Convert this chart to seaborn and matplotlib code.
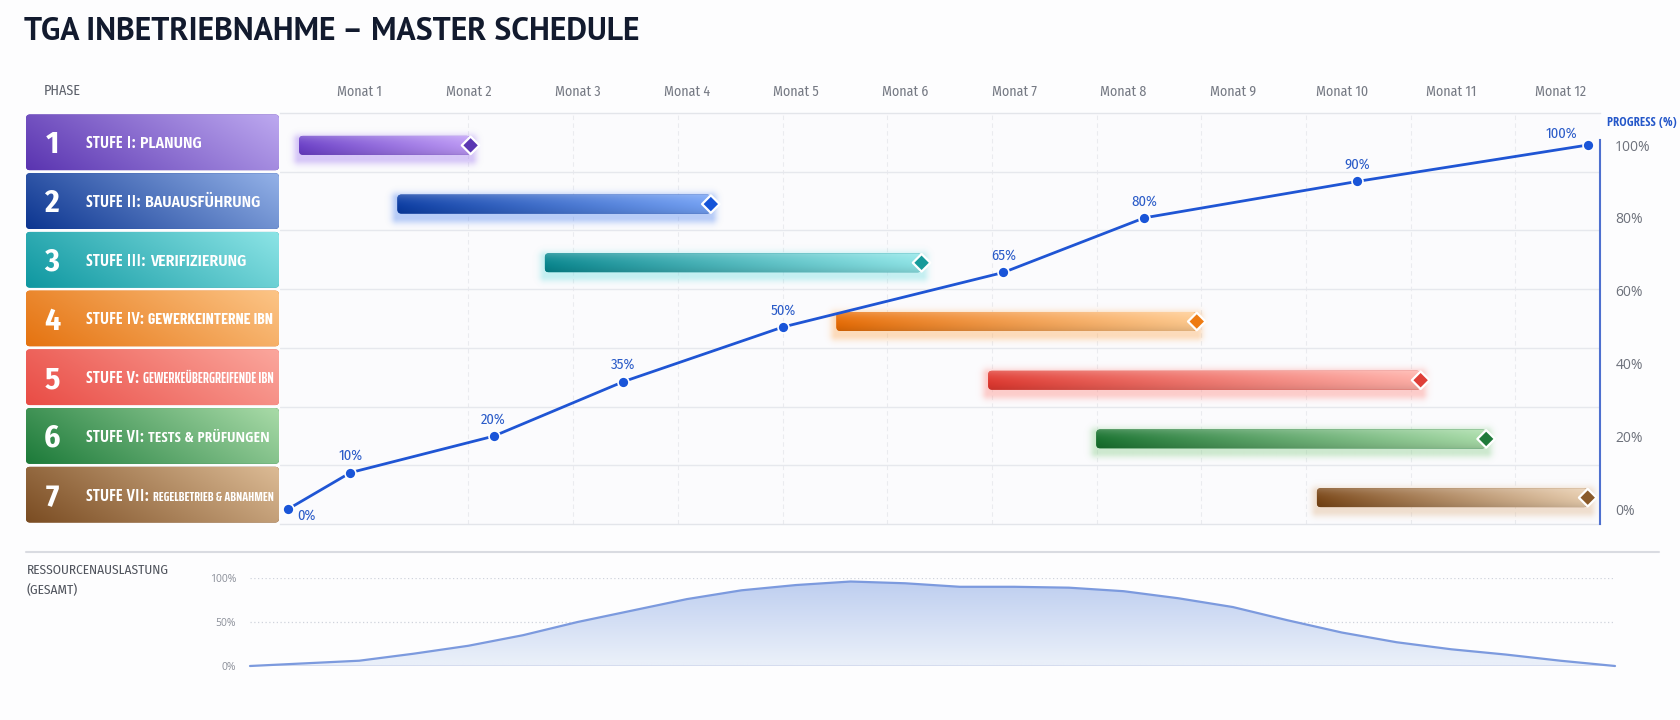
import numpy as np
import pandas as pd
import matplotlib
matplotlib.use("Agg")
import matplotlib.pyplot as plt
import seaborn as sns
from matplotlib import font_manager as fm
from matplotlib.font_manager import FontProperties
from matplotlib.ft2font import FT2Font
from matplotlib.patches import FancyBboxPatch
from matplotlib.lines import Line2D
from matplotlib.colors import to_rgb

# ---------------------------------------------------------------- data
title_text = "TGA INBETRIEBNAHME – MASTER SCHEDULE"
phase_header = "PHASE"
month_ticks = [1, 2, 3, 4, 5, 6, 7, 8, 9, 10, 11, 12]
month_labels = ["Monat 1", "Monat 2", "Monat 3", "Monat 4", "Monat 5", "Monat 6",
                "Monat 7", "Monat 8", "Monat 9", "Monat 10", "Monat 11", "Monat 12"]
phase_numbers = ["1", "2", "3", "4", "5", "6", "7"]
phase_prefix = ["STUFE I:", "STUFE II:", "STUFE III:", "STUFE IV:", "STUFE V:",
                "STUFE VI:", "STUFE VII:"]
phase_names = ["PLANUNG", "BAUAUSFÜHRUNG", "VERIFIZIERUNG", "GEWERKEINTERNE IBN",
               "GEWERKEÜBERGREIFENDE IBN", "TESTS & PRÜFUNGEN", "REGELBETRIEB & ABNAHMEN"]
bar_start = [0.45, 1.35, 2.70, 5.37, 6.76, 7.75, 9.77]
bar_end = [2.02, 4.22, 6.15, 8.67, 10.72, 11.32, 12.25]
progress_x = [0.35, 0.92, 2.23, 3.42, 4.88, 6.90, 8.19, 10.14, 12.25]
progress_pct = [0, 10, 20, 35, 50, 65, 80, 90, 100]
progress_ticks = [0, 20, 40, 60, 80, 100]
progress_tick_labels = ["0%", "20%", "40%", "60%", "80%", "100%"]
progress_axis_label = "PROGRESS (%)"
resource_label = ["RESSOURCENAUSLASTUNG", "(GESAMT)"]
resource_x = [0, 1, 1.5, 2, 2.5, 3, 3.5, 4, 4.5, 5, 5.5, 6, 6.5, 7, 7.5, 8, 8.5,
              9, 9.5, 10, 10.5, 11, 11.5, 12, 12.5]
resource_pct = [0, 6, 14, 23, 35, 50, 63, 76, 86, 92, 96, 94, 90, 90, 89, 85, 77,
                67, 52, 38, 27, 19, 13, 6, 0]
resource_ticks = [0, 50, 100]
resource_tick_labels = ["0%", "50%", "100%"]

# ---------------------------------------------------------------- styles
box_dark = ["#5a34b0", "#0c3590", "#0e97a0", "#e57310", "#e94c45", "#1c7a39", "#7a4c22"]
box_light = ["#bda9f0", "#94b2e8", "#8ce4e6", "#fcc587", "#fba79d", "#a9dba8", "#dcbb95"]
bar_dark = ["#6a3ec8", "#0a3ca4", "#07878f", "#e86c04", "#e0382f", "#17722e", "#7a4616"]
bar_light = ["#bc98f6", "#74a2f6", "#8fe6e8", "#ffca8e", "#ffaea6", "#a8dca8", "#e8cdae"]
glow_col = ["#a47ff0", "#5b8cf0", "#7adfe2", "#ffb060", "#ff8d85", "#8fd090", "#e0b890"]
diamond_col = ["#5a36b2", "#1554d8", "#169a9a", "#ee7b12", "#df3f38", "#1f7a3a", "#8a5a2a"]
BLUE = "#1f55d4"

W, H, DPI = 1680, 720, 100
sns.set_theme(style="white")
plt.rcParams["font.family"] = ["Open Sans", "DejaVu Sans"]

fig = plt.figure(figsize=(W / DPI, H / DPI), dpi=DPI, facecolor="#fdfdfe")


def fx(px):
    return px / W


def fy(py):
    return 1 - py / H


# ---------------------------------------------------------------- fonts
def _w(f):
    w = f.weight
    if isinstance(w, str):
        w = {"bold": 700, "normal": 400, "regular": 400, "medium": 500, "semibold": 600,
             "demibold": 600, "light": 300, "black": 900, "heavy": 800, "book": 400,
             "ultralight": 200, "extra bold": 800}.get(w.lower(), 400)
    return int(w)


def font_file(name, weight, tol=120):
    if not name:
        return None
    best = None
    for f in fm.fontManager.ttflist:
        if f.name != name or f.style != "normal":
            continue
        d = abs(_w(f) - weight)
        if best is None or d < best[0]:
            best = (d, f.fname)
    if best is None or best[0] > tol:
        return None
    return best[1]


def ink(path, s):
    f = FT2Font(path)
    f.set_size(100, 72)
    f.set_text(s, 0.0)
    w, h = f.get_width_height()
    return w / 64 / 100, h / 64 / 100


def pick(families, weight, sample, width_px, cap_px, tol=120):
    best = None
    for nm in families:
        p = font_file(nm, weight, tol)
        if not p:
            continue
        try:
            wr, _ = ink(p, sample)
            _, cr = ink(p, "H")
        except Exception:
            continue
        size_px = width_px / wr
        score = abs(cr * size_px - cap_px)
        if best is None or score < best[0]:
            best = (score, p, nm)
    return best


humanist_cond = ["Fira Sans Condensed", "Asap Condensed", "PT Sans Narrow", "Cabin Condensed",
                 "Encode Sans Condensed", "Encode Sans Semi Condensed", "IBM Plex Sans Condensed",
                 "Sofia Sans Condensed", "Sofia Sans Semi Condensed", "Open Sans Condensed",
                 "Roboto Condensed", "Archivo Narrow", "Barlow Semi Condensed",
                 "Barlow Condensed", "Liberation Sans Narrow"]
title_fams = ["Fira Sans", "Fira Sans Condensed", "Encode Sans Semi Condensed",
              "Barlow Semi Condensed", "Asap", "Asap Condensed", "Cabin", "PT Sans",
              "Noto Sans", "Lato", "Roboto", "IBM Plex Sans", "IBM Plex Sans Condensed",
              "Sofia Sans Semi Condensed", "Encode Sans Condensed", "DejaVu Sans"]

lab_pick = pick(humanist_cond, 700, "STUFE I: PLANUNG", 115, 11.8, tol=60)
LAB_B = lab_pick[1] if lab_pick else None
reg_pick = pick(humanist_cond, 400, "Monat 12", 51, 9.5, tol=60)
REG = reg_pick[1] if reg_pick else None
title_pick = pick(title_fams, 700, title_text, 615, 22.5, tol=60)
NUM_B = font_file("Fira Sans Condensed", 700, tol=60) or LAB_B
REST_MAIN = font_file("Fira Sans Condensed", 600, tol=60) or LAB_B

# narrow, fairly bold faces for long phase names
rest_cands = []
for f in fm.fontManager.ttflist:
    nm = f.name
    if f.style != "normal":
        continue
    if not any(k in nm for k in ("Condensed", "Narrow", "Compressed")):
        continue
    if any(k in nm for k in ("Mono", "Serif", " SC", "Sketch", "Condiment", "Light", "Thin",
                             "Black", "ExtraBold", "Extra Bold", "Display")):
        continue
    if not (550 <= _w(f) <= 720):
        continue
    if f.fname not in rest_cands:
        rest_cands.append(f.fname)
rest_cands = [p for p in (REST_MAIN, LAB_B) if p] + \
    [p for p in rest_cands if p not in (REST_MAIN, LAB_B)]


def fprop(path, size, bold=False):
    if path:
        return FontProperties(fname=path, size=size)
    return FontProperties(family=["DejaVu Sans"], weight="bold" if bold else "normal", size=size)


def fit_pt(path, s, target_px, fallback):
    if not path:
        return fallback
    wr, _ = ink(path, s)
    return target_px / wr * 72 / DPI


def cap_pt(path, cap_px, fallback):
    if not path:
        return fallback
    _, cr = ink(path, "H")
    return cap_px / cr * 72 / DPI


fig.canvas.draw()
renderer = fig.canvas.get_renderer()


def text_w(t):
    return t.get_window_extent(renderer=renderer).width


# ---------------------------------------------------------------- title & header
if title_pick:
    tsize = fit_pt(title_pick[1], title_text, 615, 22)
    fig.text(fx(24), fy(32), title_text, fontproperties=fprop(title_pick[1], tsize),
             color="#121a2e", ha="left", va="center")
else:
    fig.text(fx(24), fy(32), title_text, fontsize=20, fontweight="bold",
             color="#121a2e", ha="left", va="center")

fig.text(fx(44), fy(91), phase_header,
         fontproperties=fprop(REG, fit_pt(REG, phase_header, 37, 9)),
         color="#5c606a", ha="left", va="center")

# ---------------------------------------------------------------- gantt axes
GL, GR, GT, GB = 280, 1600, 113, 524
X0, X1 = 0.2747, 12.3626
PXX = (GR - GL) / (X1 - X0)
PXY = (GB - GT) / 7.0
ax = fig.add_axes([fx(GL), fy(GB), (GR - GL) / W, (GB - GT) / H])
ax.set_facecolor("#fbfbfd")
rows = np.arange(len(phase_names))


def grad_img(c0, c1, nx=256, ny=32, tilt=0.0, highlight=0.0, gamma=1.0, shade=0.0):
    a = np.array(to_rgb(c0))
    b = np.array(to_rgb(c1))
    X, Y = np.meshgrid(np.linspace(0, 1, nx), np.linspace(0, 1, ny))
    t = np.clip((1 - tilt) * X + tilt * (1 - Y), 0, 1) ** gamma
    img = a * (1 - t[..., None]) + b * t[..., None]
    if highlight:
        img = img + (1 - img) * highlight * ((1 - Y) ** 3)[..., None]
    if shade:
        img = img * (1 - shade * (Y ** 3))[..., None]
    return np.clip(img, 0, 1)


def glow_img(wpx, hpx, color, spread=13, alpha=0.42):
    nx = int(wpx + 2 * spread)
    ny = int(hpx + 2 * spread)
    X = np.arange(nx)[None, :] - spread + 0.5
    Y = np.arange(ny)[:, None] - spread + 0.5
    dx = np.maximum(np.maximum(-X, X - wpx), 0)
    dy = np.maximum(np.maximum(-Y, Y - hpx), 0)
    d = np.sqrt(dx ** 2 + dy ** 2)
    a = alpha * np.exp(-(d / (spread * 0.42)) ** 2)
    img = np.zeros((ny, nx, 4))
    img[..., :3] = to_rgb(color)
    img[..., 3] = a
    return img


for k in range(11):
    ax.axvline(2.0 + 0.9588 * k, color="#eaebef", lw=0.8, ls=(0, (4, 3)), zorder=0.5)
for r in range(6):
    ax.axhline(r + 0.5, color="#e6e8ed", lw=1.0, zorder=0.6)

bar_h = 19 / PXY
bar_y = rows + 3 / PXY
widths = [e - s for s, e in zip(bar_start, bar_end)]
bars = ax.barh(bar_y, widths, left=bar_start, height=bar_h, color="none", linewidth=0,
               zorder=2)
for i, rect in enumerate(bars):
    x, y, w, h = rect.get_x(), rect.get_y(), rect.get_width(), rect.get_height()
    sp = 14
    gi = glow_img(w * PXX, h * PXY, glow_col[i], spread=sp)
    dy = 4 / PXY
    ax.imshow(gi, extent=(x - sp / PXX, x + w + sp / PXX, y + h + sp / PXY + dy,
                          y - sp / PXY + dy), aspect="auto", interpolation="bilinear",
              zorder=1.5)
    rb = FancyBboxPatch((x, y), w, h, boxstyle=f"round,pad=0,rounding_size={4 / PXX:.5f}",
                        mutation_aspect=PXX / PXY, facecolor=bar_dark[i], edgecolor="none",
                        zorder=2)
    ax.add_patch(rb)
    im = ax.imshow(grad_img(bar_dark[i], bar_light[i], highlight=0.22, gamma=0.9, shade=0.12),
                   extent=(x, x + w, y + h, y), aspect="auto", interpolation="bilinear",
                   zorder=3)
    im.set_clip_path(rb)

sns.scatterplot(x=bar_end, y=list(bar_y), hue=phase_names, palette=diamond_col, marker="D",
                s=80, edgecolor="white", linewidth=1.6, legend=False, ax=ax, zorder=6)

ax.set_xticks(month_ticks)
ax.set_xticklabels(month_labels)
ax.xaxis.set_ticks_position("top")
ax.tick_params(axis="x", top=True, bottom=False, labeltop=True, labelbottom=False,
               length=0, pad=10, colors="#777b85")
msize = fit_pt(REG, "Monat 12", 51, 9.5)
for lab in ax.get_xticklabels():
    lab.set_fontproperties(fprop(REG, msize))
    lab.set_color("#767a84")
ax.set_yticks([])
ax.set_xlabel("")
ax.set_ylabel("")
for sp_ in ["left", "right"]:
    ax.spines[sp_].set_visible(False)
for sp_ in ["top", "bottom"]:
    ax.spines[sp_].set_color("#e3e5ea")
    ax.spines[sp_].set_linewidth(1.0)

# progress on twin axis
ax2 = ax.twinx()
P0, P1 = -4.12, 108.8
sns.lineplot(x=progress_x, y=progress_pct, ax=ax2, color=BLUE, lw=2.0, zorder=5)
sns.scatterplot(x=progress_x, y=progress_pct, ax=ax2, color="#1a55d8", s=62,
                edgecolor="white", linewidth=1.2, zorder=6, legend=False)
psize = msize * 1.05
for xv, v in zip(progress_x, progress_pct):
    off = (0, 12)
    if v == 0:
        off = (13, -5)
    elif v == 100:
        off = (-19, 8)
    ax2.annotate(f"{v}%", xy=(xv, v), xytext=off, textcoords="offset points",
                 ha="center", va="center", color="#2a5bc8", fontproperties=fprop(REG, psize))
ax2.set_ylim(P0, P1)
ax2.set_yticks(progress_ticks)
ax2.set_yticklabels(progress_tick_labels)
ax2.tick_params(axis="y", length=0, pad=11, labelcolor="#6d717b", labelsize=10)
ax2.set_ylabel("")
ax2.set_xlabel("")
for sp_ in ["left", "top", "bottom"]:
    ax2.spines[sp_].set_visible(False)
ax2.spines["right"].set_color("#4e70cf")
ax2.spines["right"].set_linewidth(1.5)
ax2.spines["right"].set_bounds(P0, 101.5)
fig.text(fx(1607), fy(123), progress_axis_label,
         fontproperties=fprop(LAB_B, fit_pt(LAB_B, progress_axis_label, 70, 8.5), True),
         color="#2457c9", ha="left", va="center")

ax.set_xlim(X0, X1)
ax.set_ylim(6.5, -0.5)
ax2.set_xlim(X0, X1)

# ---------------------------------------------------------------- phase label boxes
LL, LR = 26, 279
ax_lab = fig.add_axes([fx(LL), fy(GB), (LR - LL) / W, (GB - GT) / H])
ax_lab.axis("off")
BW = LR - LL
for i in rows:
    box = FancyBboxPatch((0, i - 0.475), BW, 0.95, boxstyle="round,pad=0,rounding_size=4",
                         mutation_aspect=1 / PXY, facecolor=box_dark[i],
                         edgecolor="none", zorder=1)
    ax_lab.add_patch(box)
    im = ax_lab.imshow(grad_img(box_dark[i], box_light[i], ny=64, tilt=0.25),
                       extent=(0, BW, i + 0.475, i - 0.475), aspect="auto",
                       interpolation="bilinear", zorder=2)
    im.set_clip_path(box)
ax_lab.set_xlim(0, BW)
ax_lab.set_ylim(6.5, -0.5)

num_size = cap_pt(NUM_B, 22, 22)
lab_size = cap_pt(LAB_B, 11.8, 11)
REST_CAP = 11.0
fig.canvas.draw()
for i in rows:
    ax_lab.text(26, i + 11 / PXY, phase_numbers[i], ha="center", va="baseline",
                color="white", fontproperties=fprop(NUM_B, num_size, True), zorder=5)
    base = i + 6.0 / PXY
    tp = ax_lab.text(60, base, phase_prefix[i], ha="left", va="baseline", color="white",
                     fontproperties=fprop(LAB_B, lab_size, True), zorder=5)
    pw = text_w(tp)
    xr = 60 + pw + 4
    avail = BW - 5 - xr
    best = None
    for rp in rest_cands:
        try:
            wr, _ = ink(rp, phase_names[i])
            _, cr = ink(rp, "H")
        except Exception:
            continue
        cap = min(REST_CAP, cr * avail / wr)
        if best is None or cap > best[0] + 0.2:
            best = (cap, rp, cap / cr * 72 / DPI)
        if cap >= REST_CAP:
            break
    if best is None:
        best = (0, None, lab_size * 0.8)
    tr = ax_lab.text(xr, base, phase_names[i], ha="left", va="baseline", color="white",
                     fontproperties=fprop(best[1], best[2], True), zorder=5)
    rw = text_w(tr)
    if rw > avail:
        tr.set_fontproperties(fprop(best[1], best[2] * avail / rw, True))

# ---------------------------------------------------------------- resource chart
fig.add_artist(Line2D([fx(26), fx(1659)], [fy(552), fy(552)], color="#d9dbe1", lw=1.5,
                      transform=fig.transFigure))
rsize = fit_pt(REG, resource_label[0], 142, 9)
fig.text(fx(27), fy(570), resource_label[0], fontproperties=fprop(REG, rsize),
         color="#4f535c", ha="left", va="center")
fig.text(fx(27), fy(590), resource_label[1], fontproperties=fprop(REG, rsize),
         color="#4f535c", ha="left", va="center")

ax3 = fig.add_axes([fx(250), fy(666), (1615 - 250) / W, 88 / H])
ax3.set_facecolor("none")
ax3.axhline(100, color="#cfd3dc", lw=0.9, ls=(0, (1, 2)), zorder=1)
ax3.axhline(50, color="#cfd3dc", lw=0.9, ls=(0, (1, 2)), zorder=1)
poly = ax3.fill_between(resource_x, resource_pct, 0, color="none", lw=0)
vimg = grad_img("#e9eff9", "#bfcff0", nx=8, ny=128)
vimg = np.transpose(vimg, (1, 0, 2))[::-1]
im3 = ax3.imshow(vimg, extent=(0, 12.5, 0, 100), aspect="auto", origin="upper",
                 interpolation="bilinear", zorder=2)
im3.set_clip_path(poly.get_paths()[0], ax3.transData)
ax3.axhline(0, color="#d3dbee", lw=1.3, zorder=3)
sns.lineplot(x=resource_x, y=resource_pct, ax=ax3, color="#7c9ade", lw=1.6, zorder=4,
             clip_on=False)
ax3.set_xlim(0, 12.5)
ax3.set_ylim(0, 100)
ax3.set_xticks([])
ax3.set_yticks(resource_ticks)
ax3.set_yticklabels(resource_tick_labels)
ax3.tick_params(axis="y", length=0, pad=10, labelcolor="#8b8f99", labelsize=7.5)
ax3.set_xlabel("")
ax3.set_ylabel("")
for sp_ in ax3.spines.values():
    sp_.set_visible(False)

fig.savefig("out.png", dpi=DPI, facecolor=fig.get_facecolor())
